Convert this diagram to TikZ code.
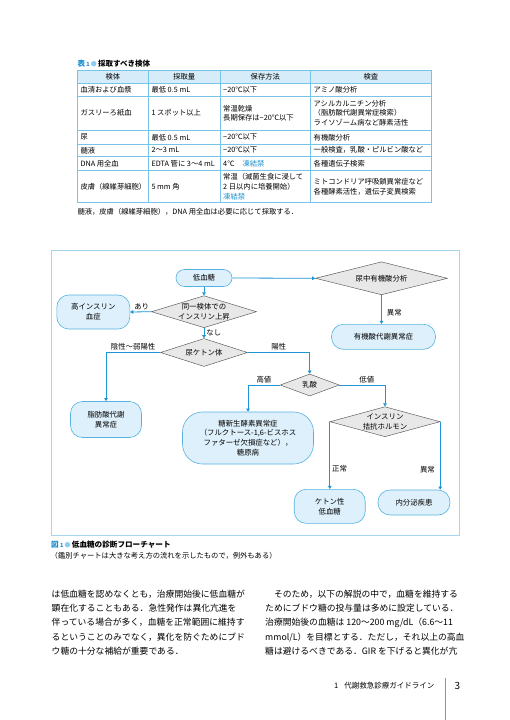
\documentclass[tikz,border=0pt]{standalone}
\usepackage{fontspec}
\setmainfont{Noto Sans CJK JP}
\usepackage{tikz}
\usetikzlibrary{shapes.geometric, arrows.meta, positioning}
\definecolor{cAccent}{RGB}{26,143,208}
\definecolor{cLine}{RGB}{120,196,232}
\definecolor{cHead}{RGB}{214,236,248}
\definecolor{cFrame}{RGB}{165,214,238}
\definecolor{cBox}{RGB}{222,240,251}
\definecolor{cBoxLine}{RGB}{86,178,224}
\definecolor{cDiamond}{RGB}{232,232,232}
\definecolor{cDiamondLine}{RGB}{85,85,85}
\definecolor{cArrow}{RGB}{28,150,214}
\definecolor{cBullet}{RGB}{140,205,240}
\newcommand{\tabfont}{\fontsize{7.3}{9.7}\selectfont}
\newcommand{\flowfont}{\fontsize{7.4}{9.8}\selectfont}
\newcommand{\bodyfont}{\fontsize{8.8}{14.3}\selectfont}
\tikzset{
	terminal/.style={rectangle, rounded corners=12pt, draw=cBoxLine, fill=cBox, line width=0.6pt, align=center, font=\flowfont, inner sep=1pt},
	decision/.style={diamond, draw=cDiamondLine, fill=cDiamond, line width=0.45pt, inner sep=0pt},
	dlabel/.style={align=center, font=\flowfont, inner sep=0pt},
	flowarrow/.style={-{Triangle[length=3.2pt, width=3.6pt]}, line width=0.8pt, draw=cArrow},
	branch/.style={font=\flowfont, inner sep=2pt},
	% table helpers
	tcell/.style={anchor=west, align=left, font=\tabfont, inner sep=0pt},
	thead/.style={font=\tabfont, inner sep=0pt},
	gridline/.style={draw=cLine, line width=0.45pt},
}

\begin{document}
\begin{tikzpicture}[x=1pt, y=-1pt]
	\fill[white] (0,0) rectangle (509,720);
	\useasboundingbox (0,0) rectangle (509,720);

	% table 1
	\node[anchor=west, inner sep=0pt, font=\bfseries\fontsize{7.5}{9}\selectfont] (tabtitle) at (77.3,63.3)
		{\textcolor{cAccent}{表\,{\fontsize{5.5}{6}\selectfont 1}}\,{\fontsize{6}{6}\selectfont\textcolor{cBullet}{●}}\,採取すべき検体};
	\fill[cHead] (77.3,70.7) rectangle (431,83.3);
	\foreach \y in {83.3,96.7,130.7,144,156.7,170.7}
		\draw[gridline] (77.3,\y) -- (431,\y);
	\foreach \x in {148.3,220,310.7}
		\draw[gridline] (\x,70.7) -- (\x,202.7);
	\draw[gridline, line width=0.9pt] (77.3,70.7) rectangle (431,202.7);
	\foreach \x/\t/\n in {112.8/検体/a, 184.2/採取量/b, 265.3/保存方法/c, 370.8/検査/d}
		\node[thead] (h-\n) at (\x,77) {\t};
	\foreach \yc/\n/\ca/\cb/\cc/\cd in {
		90/1/{血清および血漿}/{最低 0.5 mL}/{−20℃以下}/{アミノ酸分析},
		113.2/2/{ガスリーろ紙血}/{1 スポット以上}/{常温乾燥\\長期保存は−20℃以下}/{アシルカルニチン分析\\（脂肪酸代謝異常症検索）\\ライソゾーム病など酵素活性},
		137.3/3/{尿}/{最低 0.5 mL}/{−20℃以下}/{有機酸分析},
		150.3/4/{髄液}/{2〜3 mL}/{−20℃以下}/{一般検査，乳酸・ピルビン酸など},
		163.7/5/{DNA 用全血}/{EDTA 管に 3〜4 mL}/{4℃\hspace{8pt}\textcolor{cAccent}{凍結禁}}/{各種遺伝子検索},
		186.7/6/{皮膚（線維芽細胞）}/{5 mm 角}/{常温（滅菌生食に浸して\\2 日以内に培養開始）\\\textcolor{cAccent}{凍結禁}}/{ミトコンドリア呼吸鎖異常症など\\各種酵素活性，遺伝子変異検索}} {
		\node[tcell] (r\n-a) at (80.3,\yc) {\ca};
		\node[tcell] (r\n-b) at (151.3,\yc) {\cb};
		\node[tcell] (r\n-c) at (223,\yc) {\cc};
		\node[tcell] (r\n-d) at (313.5,\yc) {\cd};
	}
	\node[anchor=west, inner sep=0pt, font=\tabfont] (tabnote) at (77.3,211.7)
		{髄液，皮膚（線維芽細胞），DNA 用全血は必要に応じて採取する．};

	% figure 1 frame
	\draw[draw=cFrame, line width=0.7pt] (51.7,250) rectangle (459,535);

	% flowchart
	\node[terminal, minimum width=56pt, minimum height=17pt, rounded corners=8.5pt] (hypo) at (204,278) {低血糖};
	\node[decision, minimum width=132pt, minimum height=33pt, label={[dlabel]center:尿中有機酸分析}] (orgacid) at (381.5,278.3) {};
	\node[decision, minimum width=105pt, minimum height=32pt, label={[dlabel]center:同一検体での\\インスリン上昇}] (insup) at (204,311.7) {};
	\node[terminal, minimum width=73pt, minimum height=34pt] (hyperins) at (93.3,312) {高インスリン\\血症};
	\node[terminal, minimum width=104pt, minimum height=25pt] (oadis) at (383.5,336.8) {有機酸代謝異常症};
	\node[decision, minimum width=87pt, minimum height=28pt, label={[dlabel]center:尿ケトン体}] (ketone) at (204,352.5) {};
	\node[decision, minimum width=59pt, minimum height=22pt, label={[dlabel]center:乳酸}] (lactate) at (309.7,385) {};
	\node[terminal, minimum width=71pt, minimum height=36pt] (fao) at (106,419.5) {脂肪酸代謝\\異常症};
	\node[terminal, minimum width=131pt, minimum height=52pt, rounded corners=20pt] (gluconeo) at (248,438)
		{糖新生酵素異常症\\（フルクトース-1,6-ビスホス\\ファターゼ欠損症など），\\糖原病};
	\node[decision, minimum width=110pt, minimum height=30pt, label={[dlabel]center:インスリン\\拮抗ホルモン}] (antiins) at (385,421.7) {};
	\node[terminal, minimum width=71pt, minimum height=34pt] (ketohypo) at (329.7,506.3) {ケトン性\\低血糖};
	\node[terminal, minimum width=72pt, minimum height=25pt] (endo) at (414,502.5) {内分泌疾患};

	\draw[flowarrow] (hypo.east) -- (orgacid.west);
	\draw[flowarrow] (hypo.south) -- (insup.north);
	\draw[flowarrow] (insup.west) -- (hyperins.east) node[branch, pos=0.45, above] {あり};
	\draw[flowarrow] (insup.south) -- (ketone.north) node[branch, pos=0.45, right] {なし};
	\draw[flowarrow] (orgacid.south) -- (orgacid.south |- oadis.north) node[branch, pos=0.6, right=3pt] {異常};
	\draw[flowarrow] (ketone.west) -| (fao.north) node[branch, pos=0.25, above] {陰性〜弱陽性};
	\draw[flowarrow] (ketone.east) -| (lactate.north) node[branch, pos=0.25, above] {陽性};
	\draw[flowarrow] (lactate.west) -| (gluconeo.north) node[branch, pos=0.25, above] {高値};
	\draw[flowarrow] (lactate.east) -| (antiins.north) node[branch, pos=0.3, above] {低値};
	\draw[flowarrow] (antiins.west) -- (antiins.west |- ketohypo.north) node[branch, pos=0.7, right] {正常};
	\draw[flowarrow] (antiins.east) -- (antiins.east |- endo.north) node[branch, pos=0.7, left=3pt] {異常};

	% caption
	\node[anchor=west, inner sep=0pt, font=\bfseries\fontsize{7.6}{9}\selectfont] (figcap) at (51,545)
		{\textcolor{cAccent}{図\,{\fontsize{5.5}{6}\selectfont 1}}\,{\fontsize{6}{6}\selectfont\textcolor{cBullet}{●}}\,低血糖の診断フローチャート};
	\node[anchor=west, inner sep=0pt, font=\tabfont] (figsub) at (50.5,556)
		{（鑑別チャートは大きな考え方の流れを示したもので，例外もある）};

	% body text
	\node[anchor=north west, align=left, inner sep=0pt, font=\bodyfont] (bodyleft) at (51.5,589.5)
		{は低血糖を認めなくとも，治療開始後に低血糖が\\
		 顕在化することもある．急性発作は異化亢進を\\
		 伴っている場合が多く，血糖を正常範囲に維持す\\
		 るということのみでなく，異化を防ぐためにブド\\
		 ウ糖の十分な補給が重要である．};
	\node[anchor=north west, align=left, inner sep=0pt, font=\bodyfont] (bodyright) at (265,589.5)
		{　そのため，以下の解説の中で，血糖を維持する\\
		 ためにブドウ糖の投与量は多めに設定している．\\
		 治療開始後の血糖は 120〜200 mg/dL（6.6〜11\\
		 mmol/L）を目標とする．ただし，それ以上の高血\\
		 糖は避けるべきである．GIR を下げると異化が亢};

	% running foot
	\node[anchor=west, inner sep=0pt, font=\fontsize{7.5}{9}\selectfont] (runfoot) at (334,686) {1\hspace{6pt}代謝救急診療ガイドライン};
	\draw[draw=cArrow!80, line width=0.6pt] (445,678) -- (445,720);
	\node[inner sep=0pt, font=\fontsize{10}{12}\selectfont] (pagenum) at (457.5,686) {3};
\end{tikzpicture}
\end{document}
